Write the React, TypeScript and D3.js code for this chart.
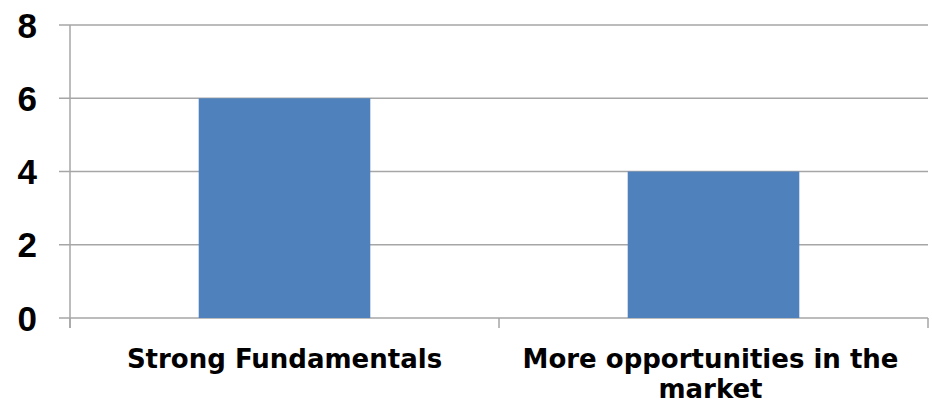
import React from "react";
import * as d3 from "d3";

const categories: string[][] = [["Strong Fundamentals"], ["More opportunities in the", "market"]];
const values: number[] = [6, 4];
const yTicks: number[] = [0, 2, 4, 6, 8];

const W = 932;
const H = 409;
const left = 70;
const right = 928;
const top = 25;
const bottom = 318;

export default function App() {
  const x = d3
    .scaleBand<number>()
    .domain(values.map((_, i) => i))
    .range([left, right])
    .paddingInner(0.6)
    .paddingOuter(0.3);
  const y = d3.scaleLinear().domain([0, 8]).range([bottom, top]);
  const step = x.step();
  const boundaries = d3.range(values.length + 1).map((i) => left + i * step);
  const grid = "#a6a6a6";

  return (
    <svg width={W} height={H} style={{ position: "absolute", left: 0, top: 0, background: "#fff" }}>
      {yTicks.map((t) => (
        <g key={t}>
          <line x1={59} x2={right} y1={y(t)} y2={y(t)} stroke={grid} strokeWidth={1.5} />
          <text
            x={37}
            y={y(t)}
            dy="0.36em"
            textAnchor="end"
            fontFamily="'Liberation Sans', Arial, sans-serif"
            fontWeight="bold"
            fontSize={35}
            fill="#000"
          >
            {t}
          </text>
        </g>
      ))}
      {values.map((v, i) => (
        <rect key={i} x={x(i)} y={y(v)} width={x.bandwidth()} height={y(0) - y(v)} fill="#4f81bd" />
      ))}
      <line x1={left} x2={left} y1={top} y2={328} stroke={grid} strokeWidth={1.5} />
      {boundaries.map((b, i) => (
        <line key={i} x1={b} x2={b} y1={bottom} y2={328} stroke={grid} strokeWidth={1.5} />
      ))}
      {categories.map((lines, i) => (
        <text
          key={i}
          textAnchor="middle"
          fontFamily="'DejaVu Sans', sans-serif"
          fontWeight="bold"
          fontSize={26}
          fill="#000"
        >
          {lines.map((l, j) => (
            <tspan key={j} x={(x(i) as number) + x.bandwidth() / 2 - (i === 1 ? 3 : 0)} y={368 + j * 30}>
              {l}
            </tspan>
          ))}
        </text>
      ))}
    </svg>
  );
}
